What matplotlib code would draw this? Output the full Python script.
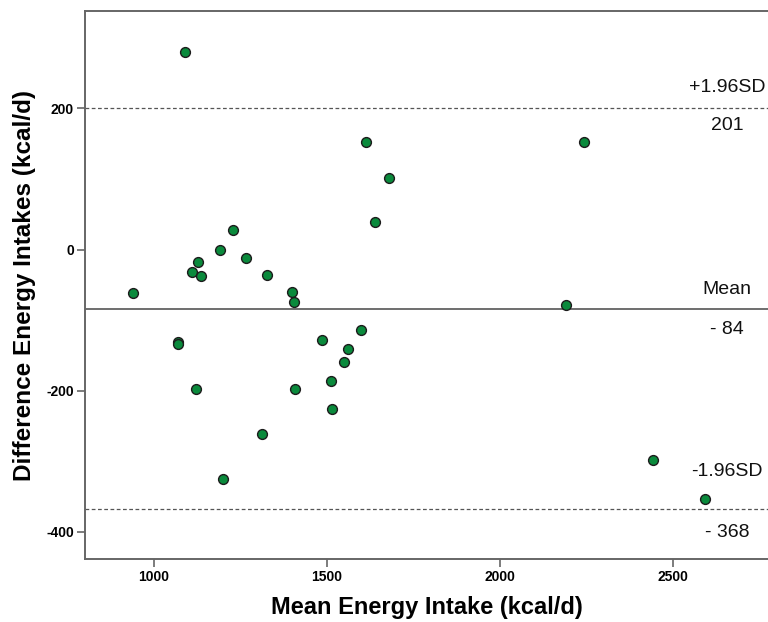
import matplotlib
matplotlib.use("Agg")
import matplotlib.pyplot as plt

plt.rcParams["font.family"] = ["Liberation Sans", "DejaVu Sans"]
plt.rcParams["axes.unicode_minus"] = False

# Bland-Altman data: mean of the two methods vs. their difference
mean_intake = [1091, 1614, 1679, 1639, 1228, 1190, 1128, 1266, 1111, 1137,
               1327, 941, 1399, 1404, 1069, 1071, 1486, 1598, 1561, 1551,
               1513, 1123, 1408, 1516, 1313, 1201, 2244, 2192, 2444, 2595]
diff_intake = [280, 152, 101, 39, 27, 0, -17, -12, -32, -37,
               -36, -61, -60, -74, -131, -134, -128, -114, -141, -160,
               -186, -198, -197, -226, -262, -325, 153, -79, -298, -353]

mean_diff = -84
upper_loa = 201
lower_loa = -368

x_ticks = [1000, 1500, 2000, 2500]
y_ticks = [-400, -200, 0, 200]

fig = plt.figure(figsize=(7.68, 6.22), dpi=100)
ax = fig.add_axes([0.1107, 0.1008, 0.8893, 0.882])

spine_col = "#666666"
ax.axhline(mean_diff, color="#555555", lw=1.2, zorder=1)
ax.axhline(upper_loa, color="#555555", lw=0.9, ls=(0, (3, 2)), zorder=1)
ax.axhline(lower_loa, color="#555555", lw=0.9, ls=(0, (3, 2)), zorder=1)

ax.scatter(mean_intake, diff_intake, s=50, color="#0a8a3c",
           edgecolors="#1c1c1c", linewidths=1.0, zorder=3)

ax.set_xlim(801, 2776)
ax.set_ylim(-439, 338.5)
ax.set_xticks(x_ticks)
ax.set_yticks(y_ticks)

for lbl in ax.get_xticklabels() + ax.get_yticklabels():
    lbl.set_fontweight("bold")
    lbl.set_fontsize(10)
ax.tick_params(direction="out", length=6, width=1.2, color=spine_col, pad=2)

ax.spines["right"].set_visible(False)
for side in ["left", "top", "bottom"]:
    ax.spines[side].set_color(spine_col)
    ax.spines[side].set_linewidth(1.4)

# line annotations
txt_x = 2657
notes = [
    ("+1.96SD", upper_loa, 20),
    ("201", upper_loa, -18),
    ("Mean", mean_diff, 19),
    ("- 84", mean_diff, -21),
    ("-1.96SD", lower_loa, 38),
    ("- 368", lower_loa, -23),
]
for text, level, off in notes:
    ax.annotate(text, (txt_x, level), xytext=(0, off),
                textcoords="offset pixels", ha="center", va="center",
                fontsize=14, color="#111111")

ax.set_xlabel("Mean Energy Intake (kcal/d)", fontsize=17, fontweight="bold",
              va="center")
ax.xaxis.set_label_coords(0.5, -0.087)
ax.set_ylabel("Difference Energy Intakes (kcal/d)", fontsize=17.5,
              fontweight="bold", va="center")
ax.yaxis.set_label_coords(-0.0893, 0.5)

fig.savefig("out.png", dpi=100)
